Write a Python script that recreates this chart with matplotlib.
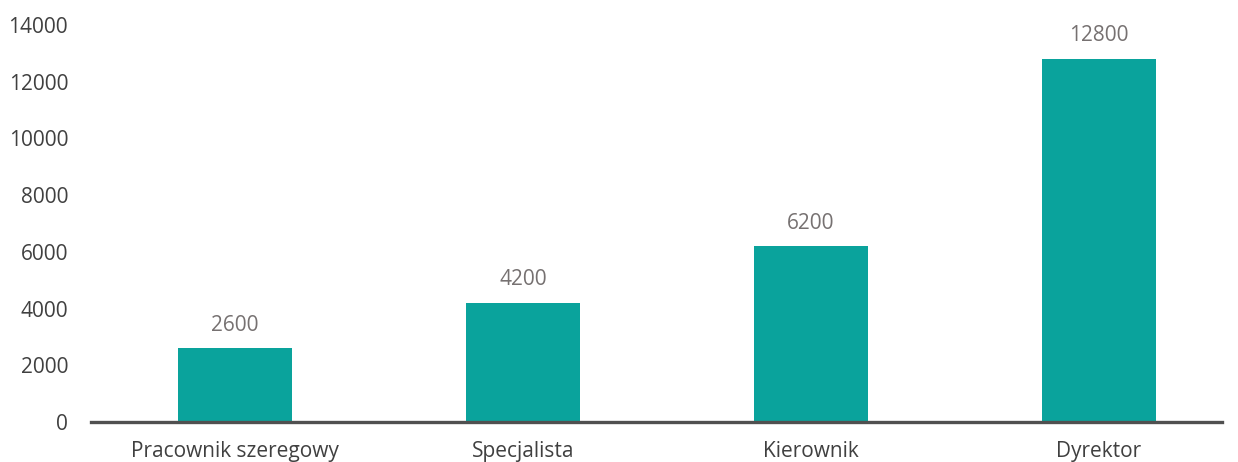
import matplotlib.pyplot as plt

plt.rcParams['font.family'] = ['Open Sans', 'DejaVu Sans']

categories = ["Pracownik szeregowy", "Specjalista", "Kierownik", "Dyrektor"]
values = [2600, 4200, 6200, 12800]
y_ticks = [0, 2000, 4000, 6000, 8000, 10000, 12000, 14000]

bar_color = "#0AA39C"
text_color = "#404040"
value_color = "#767171"

fig = plt.figure(figsize=(12.38, 4.62), dpi=100)
ax = fig.add_axes([0.0735, 0.0866, 0.9135, 0.8594])

x = range(len(categories))
bars = ax.bar(x, values, width=0.396, color=bar_color, zorder=2)

for bar, v in zip(bars, values):
    ax.annotate(str(v), (bar.get_x() + bar.get_width() / 2, v),
                xytext=(0, 9), textcoords="offset points",
                ha="center", va="bottom", fontsize=15, color=value_color)

ax.set_xlim(-0.5, 3.427)
ax.set_ylim(0, 14000)
ax.set_yticks(y_ticks)
ax.set_yticklabels([str(t) for t in y_ticks])
ax.set_xticks(list(x))
ax.set_xticklabels(categories)

ax.tick_params(axis="y", length=0, pad=16.5, labelsize=15, labelcolor=text_color)
# category labels sit close to the bottom edge, keep them fully inside
ax.tick_params(axis="x", length=0, pad=14, labelsize=15, labelcolor=text_color)

for side in ["top", "right", "left"]:
    ax.spines[side].set_visible(False)
ax.spines["bottom"].set_color("#505050")
ax.spines["bottom"].set_linewidth(2.4)
ax.spines["bottom"].set_zorder(3)

fig.savefig("out.png", dpi=100, facecolor="white")
plt.close()
